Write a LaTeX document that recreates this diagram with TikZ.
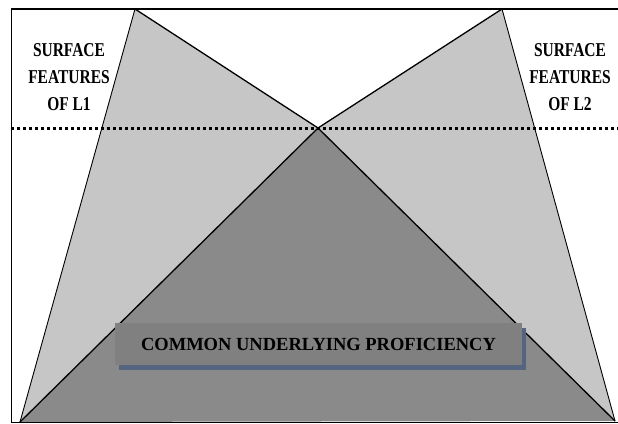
\documentclass[tikz,border=0pt]{standalone}
\usepackage{fontspec}
\setmainfont{Liberation Serif}
\usetikzlibrary{positioning, shadows}

\definecolor{lightdots}{HTML}{C6C6C6}
\definecolor{darkdots}{HTML}{8A8A8A}
\definecolor{boxgray}{HTML}{808080}
\definecolor{shadowblue}{HTML}{56657F}

\tikzset{
    surface/.style={align=center, font=\fontsize{19.6}{27}\selectfont\bfseries,
                    xscale=0.79, transform shape, inner sep=0pt},
    edge/.style={draw=black, line width=1.3pt},
    rim/.style={draw=black, line width=0.9pt},
    levelline/.style={draw=black, line width=3pt, dash pattern=on 3pt off 3pt}
}

\begin{document}
\begin{tikzpicture}[x=1pt, y=-1pt]
        \useasboundingbox (0,0) rectangle (618,423);
        \fill[white] (0,0) rectangle (618,423);

        % corners of the frame
        \coordinate (topL) at (11,9);
        \coordinate (topR) at (618,9);
        \coordinate (botL) at (11,422);
        \coordinate (botR) at (618,422);

        % peaks of the two icebergs and where they meet
        \coordinate (peakL1) at (135,9);
        \coordinate (peakL2) at (502,9);
        \coordinate (meet) at (318,128);
        \coordinate (baseL) at (20,422);
        \coordinate (baseR) at (615,421);
        \coordinate (levelL) at (11,128);
        \coordinate (levelR) at (618,128);

        % shaded areas
        \fill[lightdots] (peakL1) -- (meet) -- (baseL) -- cycle;
        \fill[lightdots] (peakL2) -- (meet) -- (baseR) -- cycle;
        \fill[darkdots] (meet) -- (baseL) -- (baseR) -- cycle;

        % outlines
        \draw[rim] (peakL1) -- (baseL);
        \draw[rim] (peakL2) -- (baseR);
        \draw[edge] (peakL1) -- (meet);
        \draw[edge] (peakL2) -- (meet);
        \draw[edge] (meet) -- (baseL);
        \draw[edge] (meet) -- (baseR);

        % frame
        \draw[line width=2.4pt] (topL) -- (topR);
        \draw[line width=0.8pt] (topL) -- (botL);
        \draw[line width=0.8pt] (botL) -- (botR);

        % dotted level line
        \draw[levelline] (levelL) -- (levelR);

        % labels
        \node[surface] (featL1) at (69,77) {SURFACE\\FEATURES\\OF L1};
        \node[surface] (featL2) at (570,77) {SURFACE\\FEATURES\\OF L2};

        \node [rectangle, fill=boxgray, minimum width=407pt, minimum height=42pt,
               font=\fontsize{18.5}{20}\selectfont\bfseries,
               drop shadow={shadow xshift=4pt, shadow yshift=-5pt, fill=shadowblue, opacity=1}]
              (cup) at (318.5,344) {COMMON UNDERLYING PROFICIENCY};
    \end{tikzpicture}
\end{document}
